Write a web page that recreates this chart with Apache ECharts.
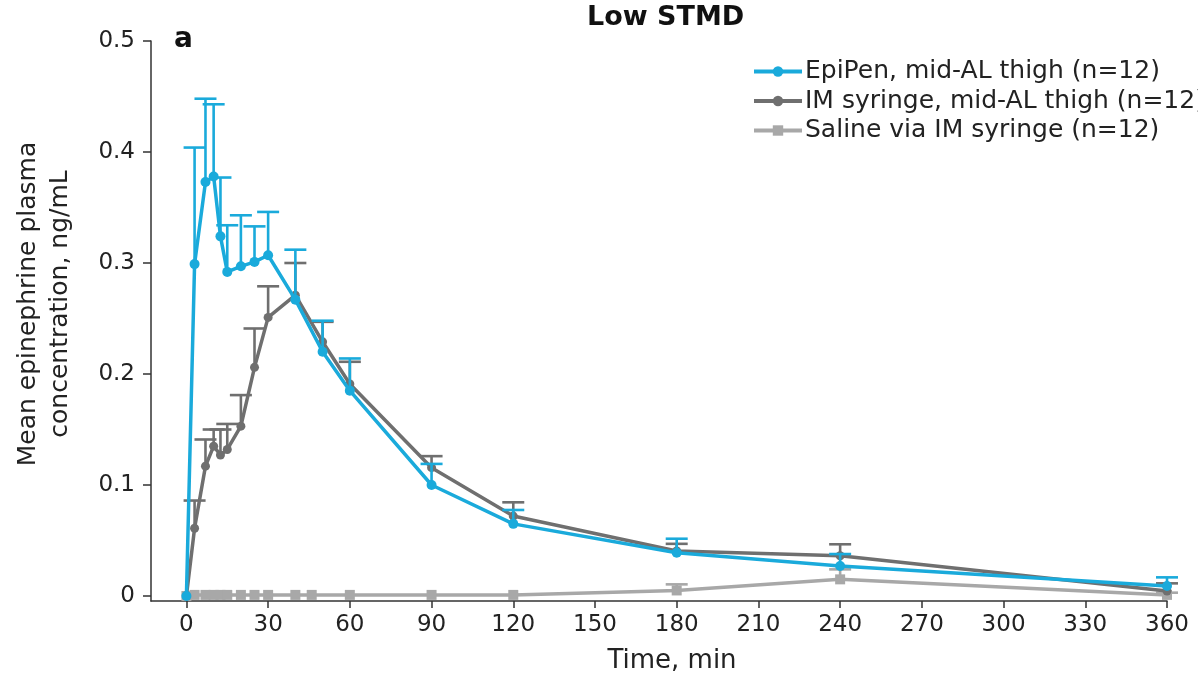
<!DOCTYPE html>
<html>
<head>
<meta charset="utf-8">
<script src="https://cdn.jsdelivr.net/npm/echarts@6/dist/echarts.min.js"></script>
<style>
html,body{margin:0;padding:0;background:#fff;}
#chart{width:1198px;height:676px;}
</style>
</head>
<body>
<div id="chart"></div>
<script>
// ---- data ----
const times = [0, 3, 7, 10, 12.5, 15, 20, 25, 30, 40, 50, 60, 90, 120, 180, 240, 360];
const epiMean = [0, 0.299, 0.373, 0.378, 0.324, 0.292, 0.297, 0.301, 0.307, 0.267, 0.220, 0.185, 0.100, 0.065, 0.039, 0.027, 0.009];
const epiTop  = [null, 0.404, 0.448, 0.443, 0.377, 0.334, 0.343, 0.333, 0.346, 0.312, 0.248, 0.214, 0.119, 0.0775, 0.0516, 0.0378, 0.0168];
const imMean  = [0, 0.061, 0.117, 0.135, 0.127, 0.132, 0.153, 0.206, 0.251, 0.271, 0.229, 0.191, 0.1156, 0.072, 0.0405, 0.0363, 0.0045];
const imTop   = [null, 0.086, 0.141, 0.150, 0.150, 0.155, 0.181, 0.241, 0.279, 0.300, 0.247, 0.211, 0.126, 0.0844, 0.047, 0.0466, 0.0114];
const salTimes = [0, 3, 7, 10, 12.5, 15, 20, 25, 30, 40, 46, 60, 90, 120, 180, 240, 360];
const salMean = [0, 0.001, 0.001, 0.001, 0.001, 0.001, 0.001, 0.001, 0.001, 0.001, 0.001, 0.001, 0.001, 0.001, 0.005, 0.015, 0.001];
const salTop  = [null, null, null, null, null, null, null, null, null, null, null, null, null, null, 0.0105, 0.024, 0.003];
const xTicks = [0, 30, 60, 90, 120, 150, 180, 210, 240, 270, 300, 330, 360];
const yTicks = [0, 0.1, 0.2, 0.3, 0.4, 0.5];
const names = ['EpiPen, mid-AL thigh (n=12)', 'IM syringe, mid-AL thigh (n=12)', 'Saline via IM syringe (n=12)'];
const colors = ['#1aaadb', '#6f6f6f', '#a8a8a8'];

const FONT = '"DejaVu Sans", "Liberation Sans", Arial, sans-serif';

function pairs(xs, ys) { return xs.map((x, i) => [x, ys[i]]); }
function errData(xs, m, t) {
  const out = [];
  xs.forEach((x, i) => { if (t[i] != null) out.push([x, m[i], t[i]]); });
  return out;
}
function errSeries(xs, m, t, color, z) {
  return {
    type: 'custom',
    z: z,
    silent: true,
    data: errData(xs, m, t),
    encode: { x: 0, y: [1, 2] },
    renderItem: function (params, api) {
      const p0 = api.coord([api.value(0), api.value(1)]);
      const p1 = api.coord([api.value(0), api.value(2)]);
      const hw = 11;
      return {
        type: 'group',
        children: [
          { type: 'line', shape: { x1: p0[0], y1: p0[1], x2: p1[0], y2: p1[1] }, style: { stroke: color, lineWidth: 2.6 } },
          { type: 'line', shape: { x1: p1[0] - hw, y1: p1[1], x2: p1[0] + hw, y2: p1[1] }, style: { stroke: color, lineWidth: 2.6 } }
        ]
      };
    }
  };
}
function lineSeries(name, xs, ys, color, symbol, size, z) {
  return {
    name: name,
    type: 'line',
    z: z,
    data: pairs(xs, ys),
    symbol: symbol,
    symbolSize: size,
    showSymbol: true,
    lineStyle: { color: color, width: 3.5 },
    itemStyle: { color: color },
    emphasis: { disabled: true }
  };
}

const chart = echarts.init(document.getElementById('chart'), null, { renderer: 'canvas' });
chart.setOption({
  animation: false,
  backgroundColor: '#fff',
  title: {
    text: 'Low STMD',
    left: 587, top: 4, padding: 0,
    textStyle: { fontFamily: FONT, fontSize: 27, fontWeight: 'bold', color: '#111' }
  },
  legend: {
    data: names,
    orient: 'vertical',
    left: 747, top: 54,
    itemWidth: 48, itemHeight: 13, itemGap: 4.5,
    lineStyle: { width: 4 },
    textStyle: { fontFamily: FONT, fontSize: 25, color: '#222', lineHeight: 25, padding: [0, 0, 0, -2] },
    selectedMode: false
  },
  grid: { left: 151, right: 31, top: 41, bottom: 75, containLabel: false },
  xAxis: {
    type: 'value',
    min: -13, max: 360,
    axisLine: { show: true, onZero: false, lineStyle: { color: '#333', width: 1.5 } },
    axisTick: { show: true, customValues: xTicks, length: 7, lineStyle: { color: '#333', width: 1.5 } },
    axisLabel: { customValues: xTicks, margin: 13, fontFamily: FONT, fontSize: 23, color: '#222' },
    splitLine: { show: false }
  },
  yAxis: {
    type: 'value',
    min: -0.0045, max: 0.5,
    axisLine: { show: true, onZero: false, lineStyle: { color: '#333', width: 1.5 } },
    axisTick: { show: true, customValues: yTicks, length: 8, lineStyle: { color: '#333', width: 1.5 } },
    axisLabel: { customValues: yTicks, margin: 16, fontFamily: FONT, fontSize: 23, color: '#222',
      formatter: v => (v === 0 ? '0' : v.toFixed(1)) },
    splitLine: { show: false }
  },
  graphic: [
    { type: 'text', left: 174, top: 26, style: { text: 'a', font: 'bold 28px ' + FONT, fill: '#111' } },
    { type: 'text', x: 44, y: 304, rotation: Math.PI / 2,
      style: { text: 'Mean epinephrine plasma\nconcentration, ng/mL', font: '25px ' + FONT, fill: '#222',
        align: 'center', verticalAlign: 'middle', lineHeight: 32 } },
    { type: 'text', x: 672, y: 661,
      style: { text: 'Time, min', font: '26px ' + FONT, fill: '#222', align: 'center', verticalAlign: 'middle' } }
  ],
  series: [
    errSeries(salTimes, salMean, salTop, colors[2], 1),
    lineSeries(names[2], salTimes, salMean, colors[2], 'rect', 10, 2),
    errSeries(times, imMean, imTop, colors[1], 3),
    lineSeries(names[1], times, imMean, colors[1], 'circle', 9, 4),
    errSeries(times, epiMean, epiTop, colors[0], 5),
    lineSeries(names[0], times, epiMean, colors[0], 'circle', 10, 6)
  ]
});
</script>
</body>
</html>
